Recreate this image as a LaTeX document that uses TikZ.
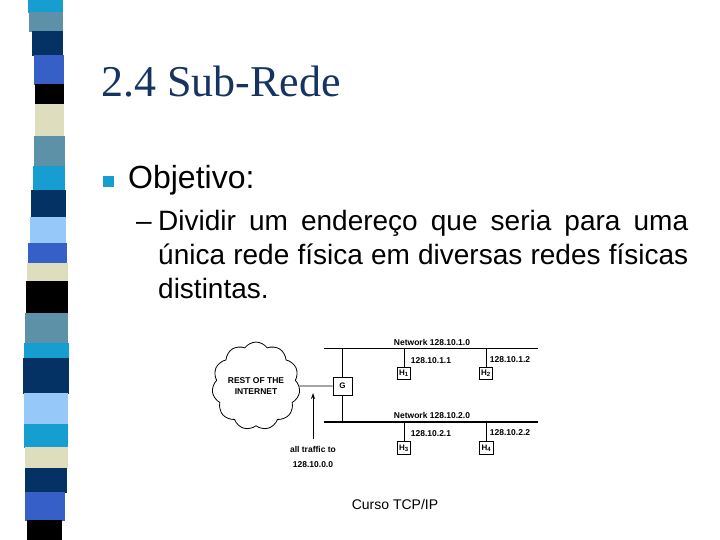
\documentclass[tikz,border=0pt]{standalone}
\usepackage{fontspec}
\setmainfont{Liberation Sans}
\newfontfamily\serifttl{Liberation Serif}
\usetikzlibrary{shapes.symbols,arrows.meta}
\definecolor{sCyan}{RGB}{22,158,208}
\definecolor{sSteel}{RGB}{92,145,168}
\definecolor{sNavy}{RGB}{5,50,100}
\definecolor{sRoyal}{RGB}{55,95,200}
\definecolor{sBeige}{RGB}{222,222,190}
\definecolor{sLight}{RGB}{150,200,250}
\definecolor{titleblue}{RGB}{22,52,98}
\tikzset{
  small/.style={font=\fontsize{8.5}{9}\selectfont\bfseries, inner sep=0pt},
  hostbox/.style={draw, line width=0.8pt, minimum width=13.5pt, minimum height=12.5pt, inner sep=0pt, font=\fontsize{8}{8}\selectfont\bfseries},
  netline/.style={line width=1.4pt},
  thin/.style={line width=0.8pt},
  body/.style={anchor=base west, inner sep=0pt, font=\fontsize{28}{28}\selectfont}
}
\begin{document}
\begin{tikzpicture}[x=1pt,y=-1pt]
\useasboundingbox (0,0) rectangle (720,540);
% decorative stripe
\foreach \a/\b/\l/\r/\c in {
 0/12/28/63/sCyan, 12/31/29/63/sSteel, 31/55/32/63/sNavy, 55/84/34/64/sRoyal,
 84/104/35/64/black, 104/136/35/64/sBeige, 136/166/34/65/sSteel, 166/190/33/65/sCyan,
 190/217/31/66/sNavy, 217/243/30/66/sLight, 243/263/28/67/sRoyal, 263/281/27/68/sBeige,
 281/313/26/68/black, 313/343/25/68/sSteel, 343/358/24/69/sCyan, 358/393/23/69/sNavy,
 393/424/24/68/sLight, 424/447/24/68/sCyan, 447/468/25/68/sBeige, 468/492/25/67/sNavy,
 492/520/25/65/sRoyal, 520/540/27/62/black}
 { \fill[\c] (\l,\a) rectangle (\r,\b+0.6); }

% title and text
\node[anchor=base west, inner sep=0pt, text=titleblue, font=\serifttl\fontsize{44}{44}\selectfont] (title) at (101,97) {2.4 Sub-Rede};
\fill[sCyan] (103,176) rectangle (114,187);
\node[anchor=base west, inner sep=0pt, font=\fontsize{32}{32}\selectfont] (obj) at (128,189) {Objetivo:};
\node[body] (dash) at (136,230) {–};
\node[body] (l1) at (158,230) {\makebox[530pt][s]{Dividir um endereço que seria para uma}};
\node[body] (l2) at (158,264) {\makebox[530pt][s]{única rede física em diversas redes físicas}};
\node[body] (l3) at (158,298) {distintas.};

% diagram
\node[cloud, draw, thin, cloud puffs=11, cloud puff arc=110, aspect=1, minimum width=80pt, minimum height=80pt, inner sep=0pt, align=center, font=\fontsize{8.5}{11}\selectfont\bfseries] (cloud) at (256,386) {REST OF THE\\INTERNET};
\node[draw, thin, minimum width=19pt, minimum height=18pt, inner sep=0pt, font=\fontsize{8}{8}\selectfont\bfseries] (G) at (342.5,386) {G};
\draw[thin] (cloud.east) -- (G.west);
\coordinate (n1a) at (324,348.5);
\coordinate (n1b) at (538,348.5);
\coordinate (n2a) at (324,422);
\coordinate (n2b) at (538,422);
\draw[netline] (n1a) -- (n1b);
\draw[netline] (n2a) -- (n2b);
\coordinate (gt) at (342.5,348.5);
\coordinate (gb) at (342.5,422);
\draw[thin] (gt) -- (G.north);
\draw[thin] (G.south) -- (gb);

\node[small] (net1) at (432,342) {Network 128.10.1.0};
\node[small] (net2) at (432,415.5) {Network 128.10.2.0};

\node[hostbox] (H1) at (404,373.5) {H\textsubscript{1}};
\node[hostbox] (H2) at (486,373.5) {H\textsubscript{2}};
\node[hostbox] (H3) at (404,448) {H\textsubscript{3}};
\node[hostbox] (H4) at (486.5,448) {H\textsubscript{4}};
\coordinate (h1t) at (404,348.5);
\coordinate (h2t) at (486,348.5);
\coordinate (h3t) at (404,422);
\coordinate (h4t) at (486.5,422);
\draw[thin] (h1t) -- (H1.north);
\draw[thin] (h2t) -- (H2.north);
\draw[thin] (h3t) -- (H3.north);
\draw[thin] (h4t) -- (H4.north);

\node[small] (a1) at (431,361) {128.10.1.1};
\node[small] (a2) at (510,360) {128.10.1.2};
\node[small] (a3) at (431,434) {128.10.2.1};
\node[small] (a4) at (510,433) {128.10.2.2};

\node[small] (traf1) at (313,449) {all traffic to};
\node[small] (traf2) at (313,465) {128.10.0.0};
\coordinate (arrS) at (313,439);
\coordinate (arrE) at (313,393);
\draw[thin, -{Stealth[length=6pt,width=4pt]}] (arrS) -- (arrE);

\node[inner sep=0pt, font=\fontsize{14}{14}\selectfont] (cap) at (395,504) {Curso TCP/IP};
\end{tikzpicture}
\end{document}
